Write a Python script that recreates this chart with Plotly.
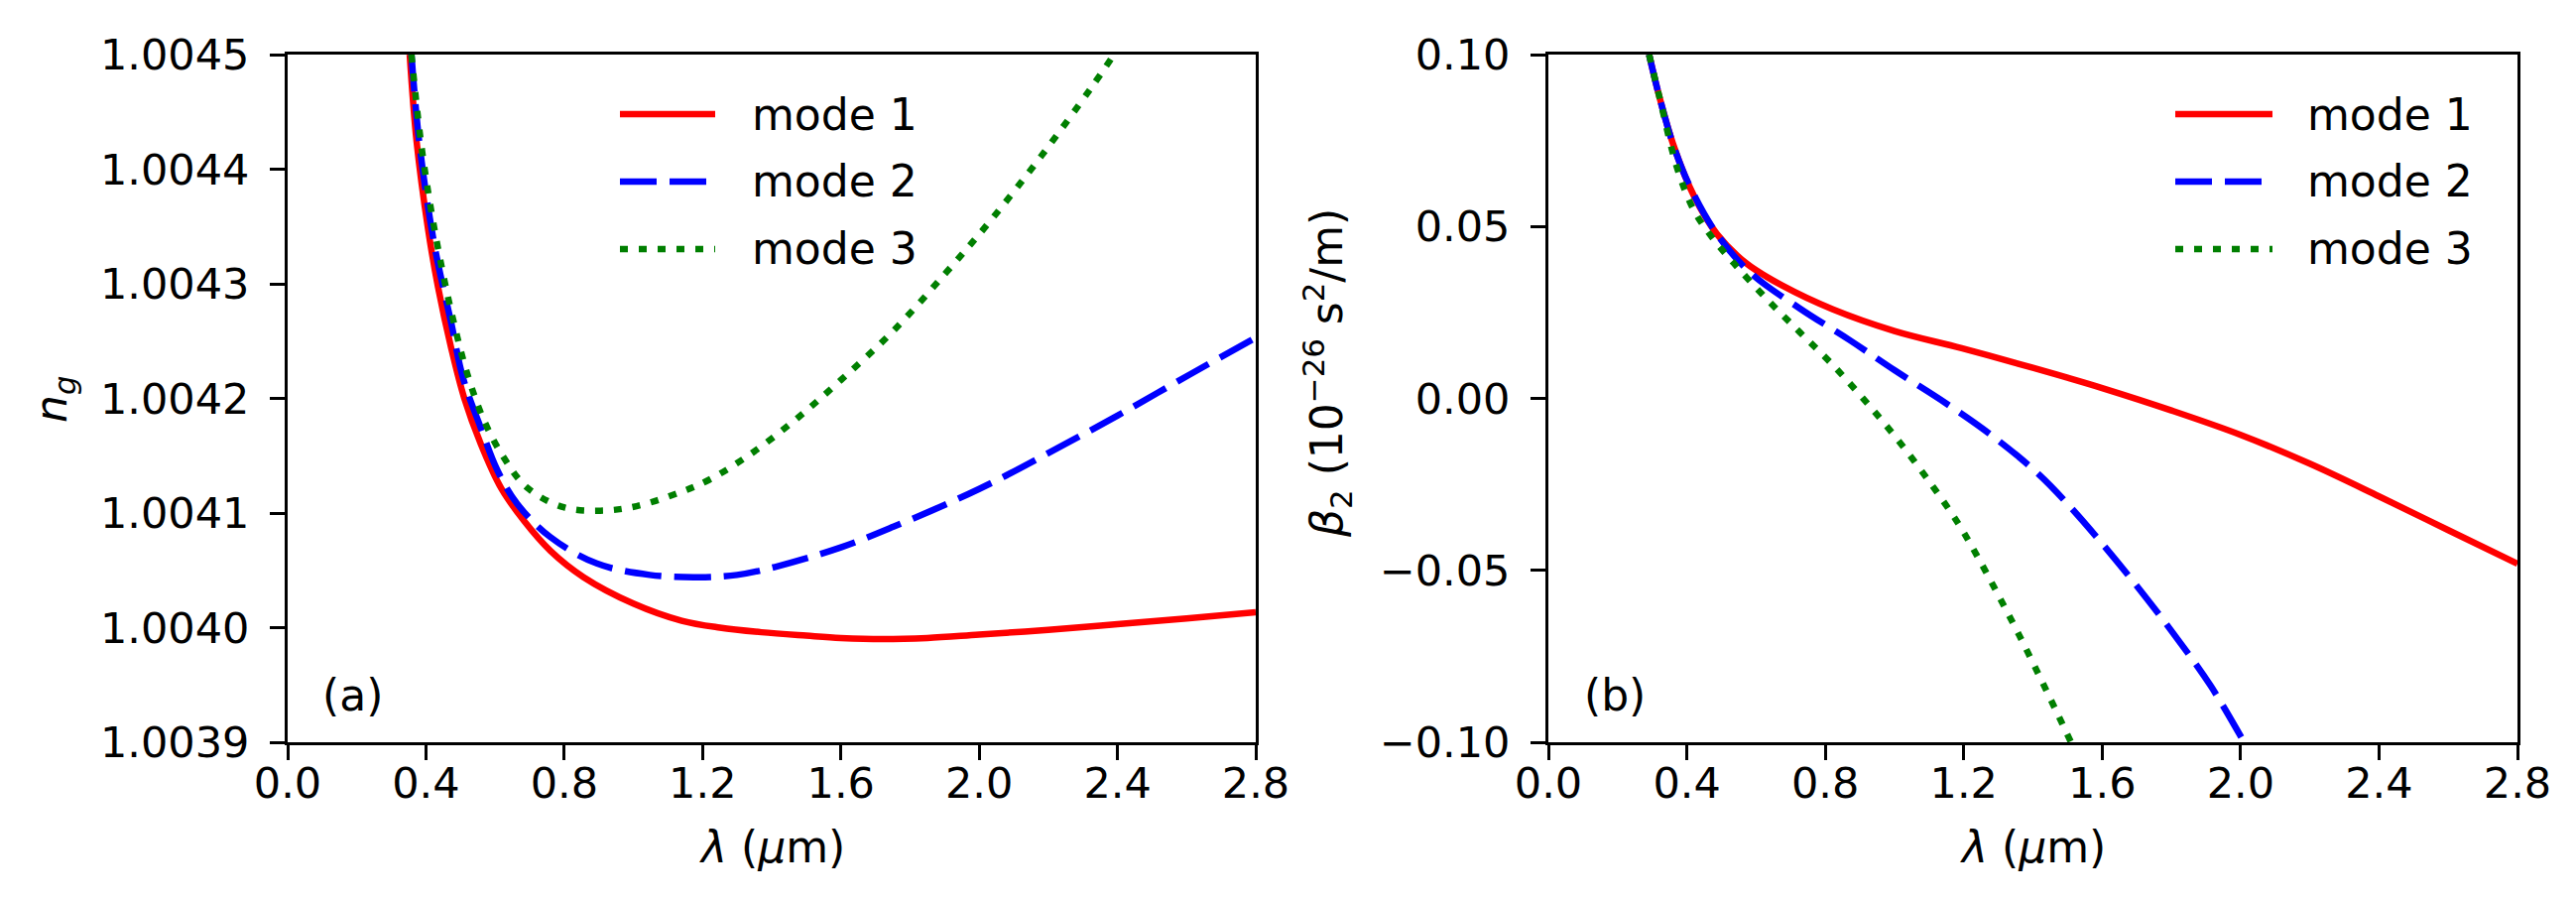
import plotly.graph_objects as go
from plotly.subplots import make_subplots

# panel (a): group index n_g against wavelength (um)
lam_a1 = [0.353, 0.373, 0.406, 0.435, 0.473, 0.511, 0.559, 0.617, 0.684, 0.760,
          0.856, 1.0, 1.14, 1.25, 1.37, 1.5, 1.6, 1.72, 1.85, 2.0,
          2.2, 2.4, 2.6, 2.8]
ng_1 = [1.004500, 1.004424, 1.004348, 1.004297, 1.004244, 1.004200, 1.004160, 1.004122,
        1.004093, 1.004067, 1.004044, 1.004021, 1.004006, 1.004000, 1.003996, 1.003993,
        1.003991, 1.003990, 1.003991, 1.003994, 1.003998, 1.004003, 1.004008, 1.0040135]

lam_a2 = [0.358, 0.382, 0.425, 0.473, 0.507, 0.559, 0.607, 0.664, 0.760, 0.894,
          1.047, 1.19, 1.30, 1.41, 1.6, 1.752, 2.0, 2.229, 2.4, 2.61, 2.8]
ng_2 = [1.004500, 1.004420, 1.004333, 1.004266, 1.004218, 1.004174, 1.004137, 1.004108,
        1.004079, 1.004056, 1.004046, 1.004044, 1.004046, 1.004053, 1.004070, 1.004088,
        1.004121, 1.004157, 1.004185, 1.004221, 1.004253]

lam_a3 = [0.358, 0.387, 0.425, 0.473, 0.521, 0.569, 0.626, 0.693, 0.798, 0.904,
          1.009, 1.143, 1.219, 1.332, 1.467, 1.6, 1.752, 1.905, 2.038, 2.181,
          2.324, 2.39]
ng_3 = [1.004500, 1.004420, 1.004347, 1.004276, 1.004220, 1.004180, 1.004148, 1.004122,
        1.004105, 1.004102, 1.004106, 1.004119, 1.004129, 1.004150, 1.004181, 1.004216,
        1.004259, 1.004310, 1.004357, 1.004412, 1.004471, 1.004500]

# panel (b): beta_2 (1e-26 s^2/m) against wavelength (um)
lam_b1 = [0.291, 0.320, 0.363, 0.420, 0.487, 0.573, 0.678, 0.822, 1.0, 1.194,
          1.40, 1.50, 1.60, 1.80, 2.0, 2.2, 2.4, 2.6, 2.8]
b2_1 = [0.100, 0.0880, 0.0732, 0.0590, 0.0478, 0.0392, 0.0327, 0.0259, 0.0196, 0.0146,
        0.0089, 0.0060, 0.0030, -0.0035, -0.0106, -0.0190, -0.0285, -0.0383, -0.0481]

lam_b2 = [0.291, 0.320, 0.363, 0.411, 0.487, 0.583, 0.726, 0.870, 1.0, 1.15,
          1.28, 1.414, 1.512, 1.672, 1.803, 1.913, 2.01]
b2_2 = [0.100, 0.0880, 0.0731, 0.0612, 0.0478, 0.0366, 0.0262, 0.0170, 0.0082, -0.0015,
        -0.0107, -0.0218, -0.0320, -0.0510, -0.0680, -0.0835, -0.100]

lam_b3 = [0.291, 0.320, 0.372, 0.420, 0.468, 0.535, 0.631, 0.726, 0.822, 0.917,
          1.013, 1.108, 1.185, 1.24, 1.30, 1.36, 1.42, 1.47, 1.51]
b2_3 = [0.100, 0.0880, 0.0670, 0.0548, 0.0475, 0.0394, 0.0289, 0.0193, 0.0097, -0.0009,
        -0.0125, -0.0252, -0.0365, -0.0460, -0.0572, -0.0688, -0.0810, -0.0915, -0.100]

mode_names = ["mode 1", "mode 2", "mode 3"]
mode_colors = ["#ff0000", "#0000ff", "#007f00"]
mode_dash = ["solid", "37px,13px", "8px,11px"]

x_ticks = [0.0, 0.4, 0.8, 1.2, 1.6, 2.0, 2.4, 2.8]
x_ticktext = ["0.0", "0.4", "0.8", "1.2", "1.6", "2.0", "2.4", "2.8"]
ya_ticks = [1.0039, 1.0040, 1.0041, 1.0042, 1.0043, 1.0044, 1.0045]
ya_ticktext = ["1.0039", "1.0040", "1.0041", "1.0042", "1.0043", "1.0044", "1.0045"]
yb_ticks = [-0.10, -0.05, 0.0, 0.05, 0.10]
yb_ticktext = ["\u22120.10", "\u22120.05", "0.00", "0.05", "0.10"]

W, H = 2597, 910
FONT = "DejaVu Sans"


def px(x):
    return x / W


def py(y):
    return 1 - y / H


fig = make_subplots(rows=1, cols=2)

panel_a = [(lam_a1, ng_1), (lam_a2, ng_2), (lam_a3, ng_3)]
panel_b = [(lam_b1, b2_1), (lam_b2, b2_2), (lam_b3, b2_3)]
for col, panel in [(1, panel_a), (2, panel_b)]:
    for i, (xs, ys) in enumerate(panel):
        fig.add_trace(go.Scatter(x=xs, y=ys, mode="lines", name=mode_names[i], showlegend=False,
                                 line=dict(color=mode_colors[i], width=6.5, dash=mode_dash[i],
                                           shape="spline", smoothing=1.0)),
                      row=1, col=col)

axis_style = dict(showline=True, linewidth=3, linecolor="black", mirror=True,
                  ticks="outside", ticklen=15, tickwidth=3, tickcolor="black",
                  showgrid=False, zeroline=False, automargin=False,
                  tickfont=dict(family=FONT, size=43, color="black"))

fig.update_xaxes(range=[0, 2.8], tickvals=x_ticks, ticktext=x_ticktext, ticklabelstandoff=-14, **axis_style)
fig.update_yaxes(ticklabelstandoff=12, **axis_style)
fig.update_layout(
    xaxis=dict(domain=[px(282), px(1258)]),
    xaxis2=dict(domain=[px(1553), px(2530)]),
    yaxis=dict(domain=[py(740), py(47)], range=[1.0039, 1.0045], tickvals=ya_ticks, ticktext=ya_ticktext),
    yaxis2=dict(domain=[py(740), py(47)], range=[-0.1, 0.1], tickvals=yb_ticks, ticktext=yb_ticktext),
)

annotations = []
shapes = []
txt_font = dict(family=FONT, size=44, color="black")

# axis titles
for xc in [770, 2041]:
    annotations.append(dict(text="<i>λ</i> (<i>μ</i>m)", x=px(xc), y=py(845), xref="paper", yref="paper",
                            xanchor="center", yanchor="middle", showarrow=False, font=txt_font))
annotations.append(dict(text="<i>n</i><sub><i>g</i></sub>", x=px(46), y=py(395), xref="paper", yref="paper",
                        textangle=-90, xanchor="center", yanchor="middle", showarrow=False, font=txt_font))
annotations.append(dict(text="<i>β</i><sub>2</sub> (10<sup>−26</sup> s<sup>2</sup>/m)", x=px(1330), y=py(368),
                        xref="paper", yref="paper", textangle=-90, xanchor="center", yanchor="middle",
                        showarrow=False, font=txt_font))

# panel labels
for label, xc in [("(a)", 347), ("(b)", 1620)]:
    annotations.append(dict(text=label, x=px(xc), y=py(692), xref="paper", yref="paper",
                            xanchor="center", yanchor="middle", showarrow=False, font=txt_font))

# legends drawn in the upper right of each panel
for h0, h1, tx in [(617, 713, 748), (2185, 2283, 2316)]:
    for i, yc in enumerate([107, 175, 243]):
        shapes.append(dict(type="line", xref="paper", yref="paper", x0=px(h0), x1=px(h1), y0=py(yc), y1=py(yc),
                           line=dict(color=mode_colors[i], width=6.5, dash=mode_dash[i])))
        annotations.append(dict(text=mode_names[i], x=px(tx), y=py(yc), xref="paper", yref="paper",
                                xanchor="left", yanchor="middle", showarrow=False, font=txt_font))

fig.update_layout(width=W, height=H, margin=dict(l=0, r=0, t=0, b=0),
                  paper_bgcolor="white", plot_bgcolor="white",
                  annotations=annotations, shapes=shapes, showlegend=False)

fig.write_html("out.html")
